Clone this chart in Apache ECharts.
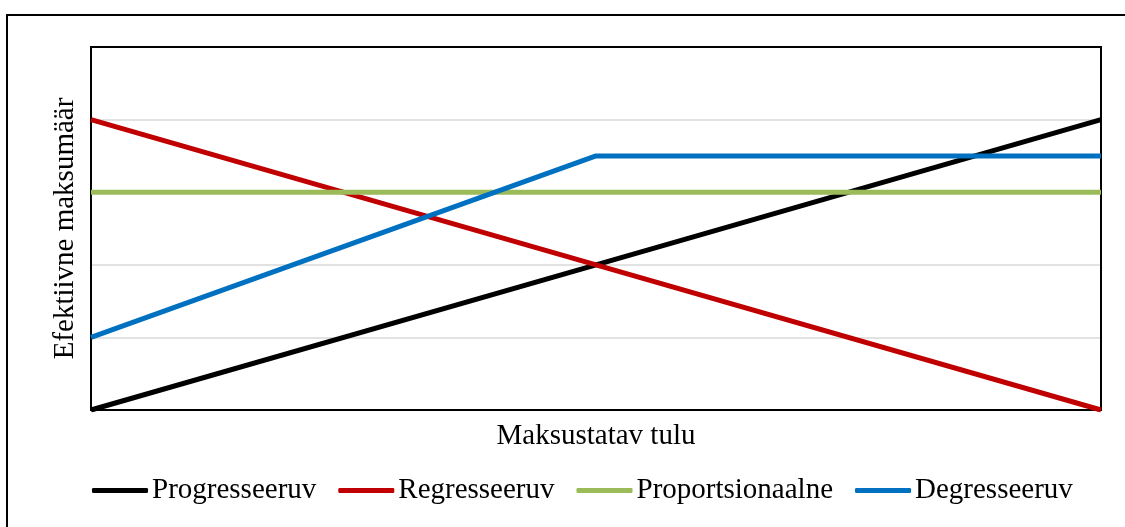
<!DOCTYPE html>
<html>
<head>
<meta charset="utf-8">
<script src="https://cdn.jsdelivr.net/npm/echarts@6/dist/echarts.min.js"></script>
<style>
  html, body { margin: 0; padding: 0; background: #fff; }
  #chart { width: 1125px; height: 527px; }
</style>
</head>
<body>
<div id="chart"></div>
<script>
// andmed
var categories = ['0', '1', '2'];
var progresseeruv = [0, 2, 4];
var regresseeruv = [4, 2, 0];
var proportsionaalne = [3, 3, 3];
var degresseeruv = [1, 3.5, 3.5];

var font = '"Liberation Serif", "Times New Roman", serif';

function lineSeries(name, data, color) {
  return {
    name: name,
    type: 'line',
    data: data,
    symbol: 'none',
    lineStyle: { color: color, width: 5 },
    itemStyle: { color: color }
  };
}

var chart = echarts.init(document.getElementById('chart'));
chart.setOption({
  animation: false,
  textStyle: { fontFamily: font },
  graphic: [{
    type: 'rect',
    shape: { x: 7, y: 15, width: 1140, height: 540 },
    style: { fill: 'none', stroke: '#000', lineWidth: 2 },
    silent: true
  }, {
    type: 'rect',
    shape: { x: 91, y: 47, width: 1010, height: 363 },
    style: { fill: 'none', stroke: '#000', lineWidth: 2 },
    silent: true,
    z: 1
  }],
  grid: {
    left: 91, right: 24, top: 47, bottom: 117,
    show: false
  },
  xAxis: {
    type: 'category',
    data: categories,
    boundaryGap: false,
    name: 'Maksustatav tulu',
    nameLocation: 'middle',
    nameGap: 12,
    nameTextStyle: { fontFamily: font, fontSize: 29, color: '#000', verticalAlign: 'top' },
    axisLine: { show: false },
    axisTick: { show: false },
    axisLabel: { show: false },
    splitLine: { show: false }
  },
  yAxis: {
    type: 'value',
    min: 0, max: 5, interval: 1,
    name: 'Efektiivne maksumäär',
    nameLocation: 'middle',
    nameGap: 11,
    nameTextStyle: { fontFamily: font, fontSize: 29, color: '#000' },
    axisLine: { show: false },
    axisTick: { show: false },
    axisLabel: { show: false },
    splitLine: { show: true, showMinLine: false, showMaxLine: false, lineStyle: { color: '#d9d9d9', width: 1.5 } }
  },
  legend: {
    left: 92,
    top: 476,
    padding: 0,
    icon: 'roundRect',
    itemWidth: 56,
    itemHeight: 5,
    itemGap: 22,
    textStyle: { fontFamily: font, fontSize: 29, color: '#000', padding: [0, 0, 0, -1] },
    data: ['Progresseeruv', 'Regresseeruv', 'Proportsionaalne', 'Degresseeruv']
  },
  series: [
    lineSeries('Progresseeruv', progresseeruv, '#000000'),
    lineSeries('Regresseeruv', regresseeruv, '#c00000'),
    lineSeries('Proportsionaalne', proportsionaalne, '#9bbb59'),
    lineSeries('Degresseeruv', degresseeruv, '#0070c0')
  ]
});
</script>
</body>
</html>
